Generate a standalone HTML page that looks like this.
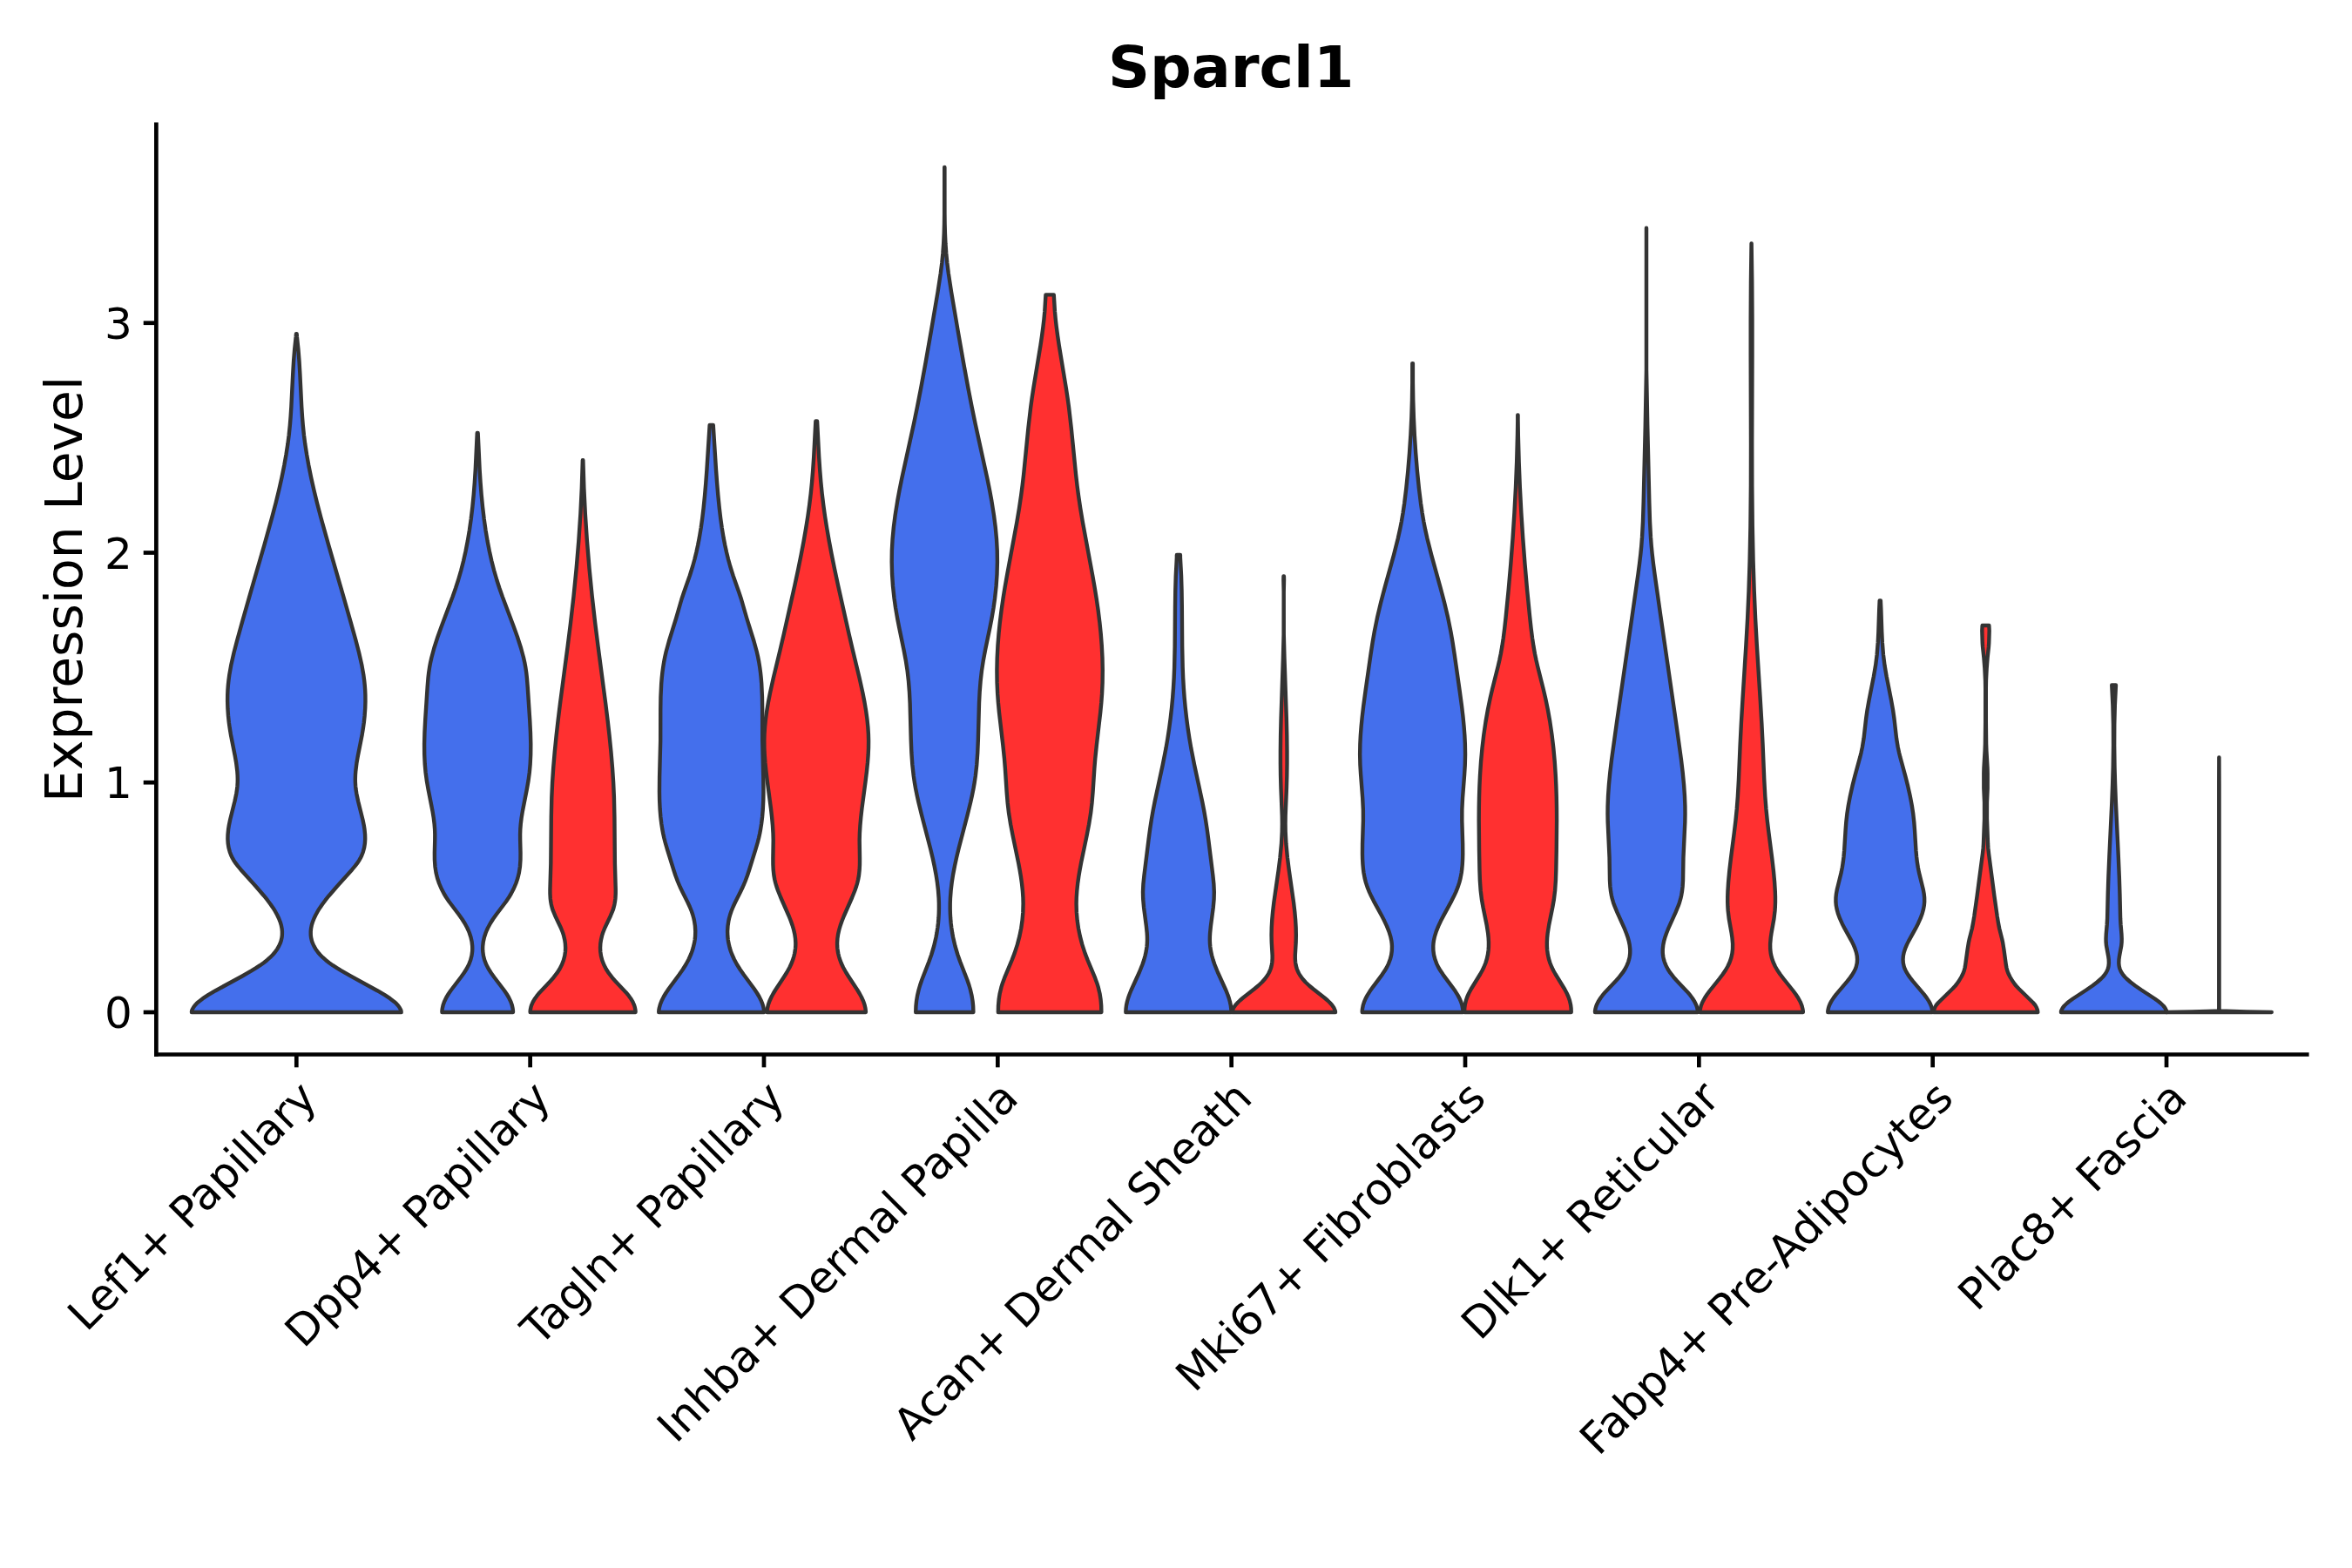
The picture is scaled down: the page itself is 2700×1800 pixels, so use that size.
<!DOCTYPE html>
<html><head><meta charset="utf-8"><title>Sparcl1</title>
<style>
html,body{margin:0;padding:0;background:#fff;overflow:hidden;width:2700px;height:1800px;}
svg{display:block;}
text{font-family:"DejaVu Sans","Liberation Sans",sans-serif;fill:#000;}
.tk{font-size:50.00px;}
.tt{font-size:66.67px;font-weight:bold;}
.yt{font-size:58.33px;}
</style></head><body>
<svg width="2700" height="1800" viewBox="0 0 2700 1800">
<rect width="2700" height="1800" fill="#fff"/>
<path d="M340.63 383.20 L340.84 386.20 L342.44 401.20 L343.48 414.20 L344.36 429.20 L346.23 467.20 L346.95 478.20 L347.76 488.20 L348.89 499.20 L350.31 510.20 L352.17 522.20 L354.32 534.20 L357.15 548.20 L360.30 562.20 L363.96 577.20 L368.40 594.20 L377.02 625.20 L393.78 683.20 L402.32 713.20 L408.45 735.20 L412.10 749.20 L415.26 763.20 L417.38 775.20 L418.18 781.20 L418.71 786.20 L419.15 792.20 L419.40 798.20 L419.45 805.20 L419.20 813.20 L418.65 821.20 L417.81 829.20 L416.84 836.20 L415.69 843.20 L410.94 867.20 L409.39 876.20 L408.28 885.20 L407.93 890.20 L407.81 894.20 L407.87 898.20 L408.11 902.20 L408.54 906.20 L409.32 911.20 L411.24 920.20 L416.48 941.20 L417.71 947.20 L418.50 952.20 L419.08 958.20 L419.19 963.20 L418.89 968.20 L418.09 973.20 L416.72 978.20 L415.16 982.20 L413.69 985.20 L412.55 987.20 L409.91 991.20 L407.62 994.20 L404.27 998.20 L386.26 1018.20 L377.67 1028.20 L373.66 1033.20 L369.93 1038.20 L367.18 1042.20 L364.68 1046.20 L362.45 1050.20 L360.54 1054.20 L358.97 1058.20 L357.78 1062.20 L357.00 1066.20 L356.71 1069.20 L356.73 1073.20 L357.08 1076.20 L358.00 1080.20 L359.07 1083.20 L360.46 1086.20 L362.19 1089.20 L365.07 1093.20 L367.67 1096.20 L370.65 1099.20 L374.05 1102.20 L377.85 1105.20 L382.07 1108.20 L386.65 1111.20 L391.54 1114.20 L402.01 1120.20 L433.15 1137.20 L441.61 1142.20 L447.70 1146.20 L452.90 1150.20 L455.08 1152.20 L456.93 1154.20 L458.43 1156.20 L459.52 1158.20 L460.42 1160.20 L460.64 1162.00 L219.96 1162.00 L220.18 1160.20 L221.08 1158.20 L222.17 1156.20 L223.67 1154.20 L225.52 1152.20 L227.70 1150.20 L232.90 1146.20 L238.99 1142.20 L247.45 1137.20 L278.59 1120.20 L289.06 1114.20 L293.95 1111.20 L298.53 1108.20 L302.75 1105.20 L306.55 1102.20 L309.95 1099.20 L312.93 1096.20 L315.53 1093.20 L318.41 1089.20 L320.14 1086.20 L321.53 1083.20 L322.60 1080.20 L323.52 1076.20 L323.87 1073.20 L323.89 1069.20 L323.60 1066.20 L322.82 1062.20 L321.63 1058.20 L320.06 1054.20 L318.15 1050.20 L315.92 1046.20 L313.42 1042.20 L310.67 1038.20 L306.94 1033.20 L302.93 1028.20 L294.34 1018.20 L276.33 998.20 L272.98 994.20 L270.69 991.20 L268.05 987.20 L266.91 985.20 L265.44 982.20 L263.88 978.20 L262.51 973.20 L261.71 968.20 L261.41 963.20 L261.52 958.20 L262.10 952.20 L262.89 947.20 L264.12 941.20 L269.36 920.20 L271.28 911.20 L272.06 906.20 L272.49 902.20 L272.73 898.20 L272.79 894.20 L272.67 890.20 L272.32 885.20 L271.21 876.20 L269.66 867.20 L264.91 843.20 L263.76 836.20 L262.79 829.20 L261.95 821.20 L261.40 813.20 L261.15 805.20 L261.20 798.20 L261.45 792.20 L261.89 786.20 L262.42 781.20 L263.22 775.20 L265.34 763.20 L268.50 749.20 L272.15 735.20 L278.28 713.20 L286.82 683.20 L303.58 625.20 L312.20 594.20 L316.64 577.20 L320.30 562.20 L323.45 548.20 L326.28 534.20 L328.43 522.20 L330.29 510.20 L331.71 499.20 L332.84 488.20 L333.65 478.20 L334.37 467.20 L336.24 429.20 L337.12 414.20 L338.16 401.20 L339.76 386.20 L339.97 383.20 Z" fill="#446FEC" stroke="#333333" stroke-width="4.40" stroke-linejoin="round"/>
<path d="M548.64 497.00 L550.60 539.00 L551.56 554.00 L552.67 568.00 L554.04 582.00 L555.70 596.00 L557.56 609.00 L559.56 621.00 L561.90 633.00 L564.36 644.00 L567.18 655.00 L570.37 666.00 L573.28 675.00 L576.79 685.00 L589.58 719.00 L593.90 731.00 L598.08 744.00 L601.04 755.00 L602.37 761.00 L603.30 766.00 L604.19 772.00 L604.87 778.00 L605.68 788.00 L608.19 826.00 L608.96 841.00 L609.30 854.00 L609.20 866.00 L608.68 877.00 L607.78 887.00 L606.57 896.00 L604.82 906.00 L599.91 931.00 L598.61 939.00 L597.76 946.00 L597.29 952.00 L597.10 958.00 L597.14 964.00 L597.52 979.00 L597.46 987.00 L596.91 995.00 L595.82 1002.00 L594.35 1008.00 L592.34 1014.00 L589.79 1020.00 L586.67 1026.00 L584.27 1030.00 L580.91 1035.00 L569.58 1050.00 L566.02 1055.00 L562.85 1060.00 L560.15 1065.00 L558.75 1068.00 L557.53 1071.00 L555.90 1076.00 L554.79 1081.00 L554.21 1086.00 L554.12 1089.00 L554.24 1092.00 L554.91 1097.00 L556.18 1102.00 L558.09 1107.00 L560.67 1112.00 L563.84 1117.00 L567.45 1122.00 L578.88 1137.00 L581.61 1141.00 L584.00 1145.00 L586.41 1150.00 L587.80 1154.00 L588.64 1158.00 L588.91 1160.00 L588.96 1162.00 L507.44 1162.00 L507.49 1160.00 L507.76 1158.00 L508.60 1154.00 L509.99 1150.00 L512.40 1145.00 L514.79 1141.00 L517.52 1137.00 L528.95 1122.00 L532.56 1117.00 L535.73 1112.00 L538.31 1107.00 L540.22 1102.00 L541.49 1097.00 L542.16 1092.00 L542.28 1089.00 L542.19 1086.00 L541.61 1081.00 L540.50 1076.00 L538.87 1071.00 L537.65 1068.00 L536.25 1065.00 L533.55 1060.00 L530.38 1055.00 L526.82 1050.00 L515.49 1035.00 L512.13 1030.00 L509.73 1026.00 L506.61 1020.00 L504.06 1014.00 L502.05 1008.00 L500.58 1002.00 L499.49 995.00 L498.94 987.00 L498.88 979.00 L499.26 964.00 L499.30 958.00 L499.11 952.00 L498.64 946.00 L497.79 939.00 L496.49 931.00 L491.58 906.00 L489.83 896.00 L488.62 887.00 L487.72 877.00 L487.20 866.00 L487.10 854.00 L487.44 841.00 L488.21 826.00 L490.72 788.00 L491.53 778.00 L492.21 772.00 L493.10 766.00 L494.03 761.00 L495.36 755.00 L498.32 744.00 L502.50 731.00 L506.82 719.00 L519.61 685.00 L523.12 675.00 L526.03 666.00 L529.22 655.00 L532.04 644.00 L534.50 633.00 L536.84 621.00 L538.84 609.00 L540.70 596.00 L542.36 582.00 L543.73 568.00 L544.84 554.00 L545.80 539.00 L547.76 497.00 Z" fill="#446FEC" stroke="#333333" stroke-width="4.40" stroke-linejoin="round"/>
<path d="M669.35 528.20 L670.36 560.20 L671.83 590.20 L673.91 621.20 L676.59 653.20 L679.67 684.20 L683.19 715.20 L686.58 742.20 L695.28 808.20 L697.62 827.20 L699.54 844.20 L701.45 863.20 L702.98 881.20 L704.11 898.20 L704.89 915.20 L705.41 938.20 L705.87 991.20 L706.75 1021.20 L706.72 1026.20 L706.44 1031.20 L705.95 1035.20 L705.41 1038.20 L704.42 1042.20 L703.44 1045.20 L700.95 1051.20 L694.28 1065.20 L692.31 1070.20 L691.05 1074.20 L689.89 1079.20 L689.31 1083.20 L689.05 1088.20 L689.22 1092.20 L689.94 1097.20 L691.24 1102.20 L693.15 1107.20 L695.69 1112.20 L698.89 1117.20 L702.76 1122.20 L706.30 1126.20 L718.55 1139.20 L721.87 1143.20 L724.03 1146.20 L726.40 1150.20 L728.13 1154.20 L728.74 1156.20 L729.16 1158.20 L729.49 1160.20 L729.54 1162.00 L608.66 1162.00 L608.71 1160.20 L609.04 1158.20 L609.46 1156.20 L610.07 1154.20 L611.80 1150.20 L614.17 1146.20 L616.33 1143.20 L619.65 1139.20 L631.90 1126.20 L635.44 1122.20 L639.31 1117.20 L642.51 1112.20 L645.05 1107.20 L646.96 1102.20 L648.26 1097.20 L648.98 1092.20 L649.15 1088.20 L648.89 1083.20 L648.31 1079.20 L647.15 1074.20 L645.89 1070.20 L643.92 1065.20 L637.25 1051.20 L634.76 1045.20 L633.78 1042.20 L632.79 1038.20 L632.25 1035.20 L631.76 1031.20 L631.48 1026.20 L631.45 1021.20 L632.33 991.20 L632.79 938.20 L633.31 915.20 L634.09 898.20 L635.22 881.20 L636.75 863.20 L638.66 844.20 L640.58 827.20 L642.92 808.20 L651.62 742.20 L655.01 715.20 L658.53 684.20 L661.61 653.20 L664.29 621.20 L666.37 590.20 L667.84 560.20 L668.85 528.20 Z" fill="#FF3030" stroke="#333333" stroke-width="4.40" stroke-linejoin="round"/>
<path d="M818.73 488.00 L821.97 539.00 L823.16 555.00 L824.36 569.00 L825.76 583.00 L827.18 595.00 L828.72 606.00 L830.54 617.00 L832.28 626.00 L834.03 634.00 L835.99 642.00 L838.20 650.00 L841.64 661.00 L848.33 680.00 L850.99 688.00 L857.33 710.00 L865.44 736.00 L868.72 748.00 L870.08 754.00 L871.24 760.00 L872.21 766.00 L873.01 772.00 L873.65 778.00 L874.23 785.00 L874.94 800.00 L875.16 814.00 L875.21 850.00 L876.28 892.00 L876.43 909.00 L876.25 919.00 L875.77 929.00 L875.03 938.00 L874.05 946.00 L873.10 952.00 L872.15 957.00 L871.05 962.00 L869.78 967.00 L867.44 975.00 L859.96 999.00 L857.98 1005.00 L855.37 1012.00 L852.79 1018.00 L849.92 1024.00 L843.88 1036.00 L841.56 1041.00 L839.53 1046.00 L838.18 1050.00 L837.08 1054.00 L836.41 1057.00 L835.49 1063.00 L835.12 1069.00 L835.32 1075.00 L835.76 1079.00 L836.26 1082.00 L837.67 1088.00 L838.93 1092.00 L840.03 1095.00 L842.67 1101.00 L845.88 1107.00 L849.65 1113.00 L853.87 1119.00 L865.68 1135.00 L869.02 1140.00 L871.41 1144.00 L873.93 1149.00 L875.48 1153.00 L876.56 1157.00 L877.08 1160.00 L877.19 1162.00 L756.21 1162.00 L756.32 1160.00 L756.84 1157.00 L757.92 1153.00 L759.47 1149.00 L761.99 1144.00 L764.38 1140.00 L767.72 1135.00 L779.53 1119.00 L783.75 1113.00 L787.52 1107.00 L790.73 1101.00 L793.37 1095.00 L794.47 1092.00 L795.73 1088.00 L797.14 1082.00 L797.64 1079.00 L798.08 1075.00 L798.28 1069.00 L797.91 1063.00 L796.99 1057.00 L796.32 1054.00 L795.22 1050.00 L793.87 1046.00 L791.84 1041.00 L789.52 1036.00 L783.48 1024.00 L780.61 1018.00 L778.03 1012.00 L775.42 1005.00 L773.44 999.00 L765.96 975.00 L763.62 967.00 L762.35 962.00 L761.25 957.00 L760.30 952.00 L759.35 946.00 L758.37 938.00 L757.63 929.00 L757.15 919.00 L756.97 909.00 L757.12 892.00 L758.19 850.00 L758.24 814.00 L758.46 800.00 L759.17 785.00 L759.75 778.00 L760.39 772.00 L761.19 766.00 L762.16 760.00 L763.32 754.00 L764.68 748.00 L767.96 736.00 L776.07 710.00 L782.41 688.00 L785.07 680.00 L791.76 661.00 L795.20 650.00 L797.41 642.00 L799.37 634.00 L801.12 626.00 L802.86 617.00 L804.68 606.00 L806.22 595.00 L807.64 583.00 L809.04 569.00 L810.24 555.00 L811.43 539.00 L814.67 488.00 Z" fill="#446FEC" stroke="#333333" stroke-width="4.40" stroke-linejoin="round"/>
<path d="M938.05 483.50 L940.18 524.50 L941.18 539.50 L942.33 553.50 L943.64 566.50 L945.21 579.50 L947.02 592.50 L949.23 606.50 L951.84 621.50 L954.68 636.50 L958.12 653.50 L961.96 671.50 L974.49 727.50 L978.69 745.50 L986.63 778.50 L990.39 795.50 L992.54 806.50 L994.21 816.50 L995.43 825.50 L996.35 834.50 L996.88 842.50 L997.10 850.50 L997.02 858.50 L996.66 866.50 L995.99 875.50 L994.97 885.50 L993.63 896.50 L989.38 928.50 L988.25 938.50 L987.45 947.50 L986.90 956.50 L986.68 964.50 L987.01 985.50 L986.97 992.50 L986.67 998.50 L986.03 1004.50 L985.16 1009.50 L984.20 1013.50 L983.03 1017.50 L981.29 1022.50 L978.06 1030.50 L968.80 1051.50 L966.43 1057.50 L964.69 1062.50 L963.23 1067.50 L962.10 1072.50 L961.37 1077.50 L961.07 1082.50 L961.11 1085.50 L961.32 1088.50 L961.69 1091.50 L962.22 1094.50 L962.93 1097.50 L963.80 1100.50 L965.63 1105.50 L967.94 1110.50 L971.28 1116.50 L974.42 1121.50 L984.29 1136.50 L986.69 1140.50 L988.86 1144.50 L991.14 1149.50 L992.52 1153.50 L993.43 1157.50 L993.83 1160.50 L993.88 1162.00 L880.52 1162.00 L880.57 1160.50 L880.97 1157.50 L881.88 1153.50 L883.26 1149.50 L885.54 1144.50 L887.71 1140.50 L890.11 1136.50 L899.98 1121.50 L903.12 1116.50 L906.46 1110.50 L908.77 1105.50 L910.60 1100.50 L911.47 1097.50 L912.18 1094.50 L912.71 1091.50 L913.08 1088.50 L913.29 1085.50 L913.33 1082.50 L913.03 1077.50 L912.30 1072.50 L911.17 1067.50 L909.71 1062.50 L907.97 1057.50 L905.60 1051.50 L896.34 1030.50 L893.11 1022.50 L891.37 1017.50 L890.20 1013.50 L889.24 1009.50 L888.37 1004.50 L887.73 998.50 L887.43 992.50 L887.39 985.50 L887.72 964.50 L887.50 956.50 L886.95 947.50 L886.15 938.50 L885.02 928.50 L880.77 896.50 L879.43 885.50 L878.41 875.50 L877.74 866.50 L877.38 858.50 L877.30 850.50 L877.52 842.50 L878.05 834.50 L878.97 825.50 L880.19 816.50 L881.86 806.50 L884.01 795.50 L887.77 778.50 L895.71 745.50 L899.91 727.50 L912.44 671.50 L916.28 653.50 L919.72 636.50 L922.56 621.50 L925.17 606.50 L927.38 592.50 L929.19 579.50 L930.76 566.50 L932.07 553.50 L933.22 539.50 L934.22 524.50 L936.35 483.50 Z" fill="#FF3030" stroke="#333333" stroke-width="4.40" stroke-linejoin="round"/>
<path d="M1084.40 192.00 L1084.45 245.00 L1084.59 257.00 L1084.89 268.00 L1085.45 280.00 L1086.24 291.00 L1087.33 302.00 L1088.84 314.00 L1092.04 335.00 L1099.52 379.00 L1105.98 416.00 L1111.50 446.00 L1115.59 467.00 L1119.50 486.00 L1133.51 550.00 L1136.12 563.00 L1138.34 575.00 L1140.90 591.00 L1142.71 605.00 L1144.02 619.00 L1144.73 632.00 L1144.90 645.00 L1144.52 659.00 L1143.57 673.00 L1142.06 687.00 L1140.50 698.00 L1138.44 710.00 L1136.27 721.00 L1131.08 746.00 L1128.83 758.00 L1126.97 770.00 L1125.61 782.00 L1124.66 794.00 L1123.99 807.00 L1122.85 849.00 L1122.23 864.00 L1121.24 878.00 L1119.79 891.00 L1118.75 898.00 L1117.53 905.00 L1115.93 913.00 L1114.16 921.00 L1110.49 936.00 L1100.57 974.00 L1097.93 985.00 L1095.98 994.00 L1094.08 1004.00 L1092.68 1013.00 L1091.62 1022.00 L1090.94 1031.00 L1090.72 1037.00 L1090.69 1043.00 L1090.85 1049.00 L1091.13 1054.00 L1091.66 1060.00 L1092.26 1065.00 L1093.17 1071.00 L1094.10 1076.00 L1096.42 1086.00 L1099.39 1096.00 L1102.23 1104.00 L1110.39 1125.00 L1112.43 1131.00 L1113.90 1136.00 L1115.54 1143.00 L1116.53 1149.00 L1117.14 1155.00 L1117.38 1162.00 L1051.22 1162.00 L1051.46 1155.00 L1052.07 1149.00 L1053.06 1143.00 L1054.70 1136.00 L1056.17 1131.00 L1058.21 1125.00 L1066.37 1104.00 L1069.21 1096.00 L1072.18 1086.00 L1074.50 1076.00 L1075.43 1071.00 L1076.34 1065.00 L1076.94 1060.00 L1077.47 1054.00 L1077.75 1049.00 L1077.91 1043.00 L1077.88 1037.00 L1077.66 1031.00 L1076.98 1022.00 L1075.92 1013.00 L1074.52 1004.00 L1072.62 994.00 L1070.67 985.00 L1068.03 974.00 L1058.11 936.00 L1054.44 921.00 L1052.67 913.00 L1051.07 905.00 L1049.85 898.00 L1048.81 891.00 L1047.36 878.00 L1046.37 864.00 L1045.75 849.00 L1044.61 807.00 L1043.94 794.00 L1042.99 782.00 L1041.63 770.00 L1039.77 758.00 L1037.52 746.00 L1032.33 721.00 L1030.16 710.00 L1028.10 698.00 L1026.54 687.00 L1025.03 673.00 L1024.08 659.00 L1023.70 645.00 L1023.87 632.00 L1024.58 619.00 L1025.89 605.00 L1027.70 591.00 L1030.26 575.00 L1032.48 563.00 L1035.09 550.00 L1049.10 486.00 L1053.01 467.00 L1057.10 446.00 L1062.62 416.00 L1069.08 379.00 L1076.56 335.00 L1079.76 314.00 L1081.27 302.00 L1082.36 291.00 L1083.15 280.00 L1083.71 268.00 L1084.01 257.00 L1084.15 245.00 L1084.20 192.00 Z" fill="#446FEC" stroke="#333333" stroke-width="4.40" stroke-linejoin="round"/>
<path d="M1209.74 338.40 L1210.91 357.40 L1211.75 366.40 L1212.78 375.40 L1214.10 385.40 L1215.72 396.40 L1223.80 445.40 L1225.62 457.40 L1227.00 467.40 L1229.78 491.40 L1235.05 544.40 L1236.54 557.40 L1237.97 568.40 L1240.19 583.40 L1242.87 599.40 L1254.17 660.40 L1256.63 674.40 L1258.57 686.40 L1260.61 700.40 L1262.36 714.40 L1263.69 727.40 L1264.72 740.40 L1265.50 755.40 L1265.79 769.40 L1265.63 783.40 L1265.04 796.40 L1264.31 806.40 L1263.26 817.40 L1258.84 855.40 L1257.29 870.40 L1256.32 882.40 L1254.54 909.40 L1253.53 921.40 L1252.13 933.40 L1250.06 946.40 L1247.56 959.40 L1241.11 990.40 L1239.61 998.40 L1238.27 1006.40 L1237.15 1014.40 L1236.30 1022.40 L1235.76 1030.40 L1235.59 1037.40 L1235.87 1047.40 L1236.64 1056.40 L1237.92 1065.40 L1239.72 1074.40 L1242.32 1084.40 L1245.58 1094.40 L1248.66 1102.40 L1257.03 1122.40 L1259.23 1128.40 L1260.79 1133.40 L1262.46 1140.40 L1263.56 1147.40 L1264.17 1154.40 L1264.34 1162.00 L1145.86 1162.00 L1146.03 1154.40 L1146.64 1147.40 L1147.74 1140.40 L1149.41 1133.40 L1150.97 1128.40 L1153.17 1122.40 L1161.54 1102.40 L1164.62 1094.40 L1167.88 1084.40 L1170.48 1074.40 L1172.28 1065.40 L1173.56 1056.40 L1174.33 1047.40 L1174.61 1037.40 L1174.44 1030.40 L1173.90 1022.40 L1173.05 1014.40 L1171.93 1006.40 L1170.59 998.40 L1169.09 990.40 L1162.64 959.40 L1160.14 946.40 L1158.07 933.40 L1156.67 921.40 L1155.66 909.40 L1153.88 882.40 L1152.91 870.40 L1151.36 855.40 L1146.94 817.40 L1145.89 806.40 L1145.16 796.40 L1144.57 783.40 L1144.41 769.40 L1144.70 755.40 L1145.48 740.40 L1146.51 727.40 L1147.84 714.40 L1149.59 700.40 L1151.63 686.40 L1153.57 674.40 L1156.03 660.40 L1167.33 599.40 L1170.01 583.40 L1172.23 568.40 L1173.66 557.40 L1175.15 544.40 L1180.42 491.40 L1183.20 467.40 L1184.58 457.40 L1186.40 445.40 L1194.48 396.40 L1196.10 385.40 L1197.42 375.40 L1198.45 366.40 L1199.29 357.40 L1200.46 338.40 Z" fill="#FF3030" stroke="#333333" stroke-width="4.40" stroke-linejoin="round"/>
<path d="M1354.90 637.00 L1354.92 640.00 L1356.03 661.00 L1356.53 678.00 L1356.81 697.00 L1357.14 742.00 L1357.66 766.00 L1358.14 778.00 L1358.83 790.00 L1359.65 801.00 L1360.68 812.00 L1362.03 824.00 L1363.61 836.00 L1365.44 848.00 L1367.33 859.00 L1371.07 878.00 L1380.12 920.00 L1382.26 931.00 L1383.99 941.00 L1385.66 952.00 L1387.26 964.00 L1392.36 1005.00 L1393.38 1015.00 L1393.79 1024.00 L1393.59 1032.00 L1392.70 1042.00 L1389.92 1063.00 L1389.11 1071.00 L1388.88 1075.00 L1388.82 1079.00 L1388.95 1083.00 L1389.31 1087.00 L1390.07 1092.00 L1391.17 1097.00 L1392.58 1102.00 L1394.26 1107.00 L1397.86 1116.00 L1407.43 1137.00 L1409.41 1142.00 L1410.79 1146.00 L1411.92 1150.00 L1412.77 1154.00 L1413.28 1158.00 L1413.47 1162.00 L1292.33 1162.00 L1292.52 1158.00 L1293.03 1154.00 L1293.88 1150.00 L1295.01 1146.00 L1296.39 1142.00 L1298.37 1137.00 L1307.94 1116.00 L1311.54 1107.00 L1313.22 1102.00 L1314.63 1097.00 L1315.73 1092.00 L1316.49 1087.00 L1316.85 1083.00 L1316.98 1079.00 L1316.92 1075.00 L1316.69 1071.00 L1315.88 1063.00 L1313.10 1042.00 L1312.21 1032.00 L1312.01 1024.00 L1312.42 1015.00 L1313.44 1005.00 L1318.54 964.00 L1320.14 952.00 L1321.81 941.00 L1323.54 931.00 L1325.68 920.00 L1334.73 878.00 L1338.47 859.00 L1340.36 848.00 L1342.19 836.00 L1343.77 824.00 L1345.12 812.00 L1346.15 801.00 L1346.97 790.00 L1347.66 778.00 L1348.14 766.00 L1348.66 742.00 L1348.99 697.00 L1349.27 678.00 L1349.77 661.00 L1350.88 640.00 L1350.90 637.00 Z" fill="#446FEC" stroke="#333333" stroke-width="4.40" stroke-linejoin="round"/>
<path d="M1473.92 661.50 L1474.01 665.50 L1473.70 679.50 L1473.76 728.50 L1474.47 755.50 L1476.81 824.50 L1477.28 844.50 L1477.49 862.50 L1477.49 876.50 L1477.31 890.50 L1476.93 904.50 L1475.66 936.50 L1475.54 945.50 L1475.67 954.50 L1476.41 968.50 L1477.92 984.50 L1479.69 998.50 L1484.99 1035.50 L1486.28 1046.50 L1487.09 1055.50 L1487.62 1064.50 L1487.81 1073.50 L1487.64 1081.50 L1486.77 1096.50 L1486.77 1100.50 L1487.05 1104.50 L1487.51 1107.50 L1487.96 1109.50 L1488.86 1112.50 L1489.64 1114.50 L1491.10 1117.50 L1492.28 1119.50 L1495.13 1123.50 L1498.69 1127.50 L1502.94 1131.50 L1507.79 1135.50 L1520.55 1145.50 L1524.03 1148.50 L1526.14 1150.50 L1528.90 1153.50 L1531.03 1156.50 L1531.57 1157.50 L1532.82 1160.50 L1532.96 1162.00 L1414.44 1162.00 L1414.58 1160.50 L1415.83 1157.50 L1416.37 1156.50 L1418.50 1153.50 L1421.26 1150.50 L1423.37 1148.50 L1426.85 1145.50 L1439.61 1135.50 L1444.46 1131.50 L1448.71 1127.50 L1452.27 1123.50 L1455.12 1119.50 L1456.30 1117.50 L1457.76 1114.50 L1458.54 1112.50 L1459.44 1109.50 L1459.89 1107.50 L1460.35 1104.50 L1460.63 1100.50 L1460.63 1096.50 L1459.76 1081.50 L1459.59 1073.50 L1459.78 1064.50 L1460.31 1055.50 L1461.12 1046.50 L1462.41 1035.50 L1467.71 998.50 L1469.48 984.50 L1470.99 968.50 L1471.73 954.50 L1471.86 945.50 L1471.74 936.50 L1470.47 904.50 L1470.09 890.50 L1469.91 876.50 L1469.91 862.50 L1470.12 844.50 L1470.59 824.50 L1472.93 755.50 L1473.64 728.50 L1473.70 679.50 L1473.39 665.50 L1473.48 661.50 Z" fill="#FF3030" stroke="#333333" stroke-width="4.40" stroke-linejoin="round"/>
<path d="M1621.90 417.10 L1621.92 439.10 L1622.22 459.10 L1622.85 479.10 L1623.81 499.10 L1625.20 520.10 L1626.95 541.10 L1628.97 561.10 L1631.06 578.10 L1632.69 589.10 L1634.40 599.10 L1636.17 608.10 L1638.39 618.10 L1643.20 637.10 L1653.43 674.10 L1657.91 691.10 L1662.19 709.10 L1665.43 725.10 L1667.51 737.10 L1669.67 751.10 L1675.80 794.10 L1677.96 810.10 L1679.50 823.10 L1680.58 834.10 L1681.34 844.10 L1681.84 854.10 L1682.05 866.10 L1681.76 878.10 L1681.10 889.10 L1679.02 916.10 L1678.37 929.10 L1678.32 942.10 L1679.15 969.10 L1679.24 980.10 L1679.09 986.10 L1678.77 992.10 L1678.33 997.10 L1677.68 1002.10 L1676.55 1008.10 L1675.26 1013.10 L1673.62 1018.10 L1671.23 1024.10 L1668.91 1029.10 L1666.38 1034.10 L1657.15 1051.10 L1654.04 1057.10 L1651.21 1063.10 L1648.79 1069.10 L1646.92 1075.10 L1645.86 1080.10 L1645.47 1083.10 L1645.27 1086.10 L1645.37 1091.10 L1646.03 1096.10 L1647.28 1101.10 L1649.13 1106.10 L1651.07 1110.10 L1653.39 1114.10 L1656.75 1119.10 L1667.21 1133.10 L1670.74 1138.10 L1673.27 1142.10 L1675.44 1146.10 L1677.18 1150.10 L1678.45 1154.10 L1679.19 1158.10 L1679.43 1160.10 L1679.45 1162.00 L1563.75 1162.00 L1563.77 1160.10 L1564.01 1158.10 L1564.75 1154.10 L1566.02 1150.10 L1567.76 1146.10 L1569.93 1142.10 L1572.46 1138.10 L1575.99 1133.10 L1586.45 1119.10 L1589.81 1114.10 L1592.13 1110.10 L1594.07 1106.10 L1595.92 1101.10 L1597.17 1096.10 L1597.83 1091.10 L1597.93 1086.10 L1597.73 1083.10 L1597.34 1080.10 L1596.28 1075.10 L1594.41 1069.10 L1591.99 1063.10 L1589.16 1057.10 L1586.05 1051.10 L1576.82 1034.10 L1574.29 1029.10 L1571.97 1024.10 L1569.58 1018.10 L1567.94 1013.10 L1566.65 1008.10 L1565.52 1002.10 L1564.87 997.10 L1564.43 992.10 L1564.11 986.10 L1563.96 980.10 L1564.05 969.10 L1564.88 942.10 L1564.83 929.10 L1564.18 916.10 L1562.10 889.10 L1561.44 878.10 L1561.15 866.10 L1561.36 854.10 L1561.86 844.10 L1562.62 834.10 L1563.70 823.10 L1565.24 810.10 L1567.40 794.10 L1573.53 751.10 L1575.69 737.10 L1577.77 725.10 L1581.01 709.10 L1585.29 691.10 L1589.77 674.10 L1600.00 637.10 L1604.81 618.10 L1607.03 608.10 L1608.80 599.10 L1610.51 589.10 L1612.14 578.10 L1614.23 561.10 L1616.25 541.10 L1618.00 520.10 L1619.39 499.10 L1620.35 479.10 L1620.98 459.10 L1621.28 439.10 L1621.30 417.10 Z" fill="#446FEC" stroke="#333333" stroke-width="4.40" stroke-linejoin="round"/>
<path d="M1742.55 476.50 L1742.53 482.50 L1742.81 499.50 L1743.65 530.50 L1744.82 559.50 L1746.34 588.50 L1748.21 617.50 L1750.50 647.50 L1753.13 677.50 L1756.19 708.50 L1757.62 721.50 L1759.02 732.50 L1760.37 741.50 L1761.96 750.50 L1763.40 757.50 L1765.01 764.50 L1771.56 790.50 L1774.13 801.50 L1776.82 814.50 L1779.29 828.50 L1781.50 843.50 L1783.28 858.50 L1784.75 874.50 L1785.82 890.50 L1786.38 902.50 L1786.77 914.50 L1787.01 927.50 L1787.10 941.50 L1786.76 976.50 L1786.31 999.50 L1785.93 1010.50 L1785.08 1022.50 L1783.86 1032.50 L1782.27 1041.50 L1778.21 1061.50 L1776.63 1071.50 L1776.12 1076.50 L1775.86 1081.50 L1775.88 1086.50 L1776.14 1090.50 L1776.79 1095.50 L1777.87 1100.50 L1779.40 1105.50 L1781.45 1110.50 L1783.44 1114.50 L1785.70 1118.50 L1796.13 1135.50 L1798.77 1140.50 L1800.53 1144.50 L1801.91 1148.50 L1803.07 1153.50 L1803.57 1157.50 L1803.72 1162.00 L1681.08 1162.00 L1681.23 1157.50 L1681.73 1153.50 L1682.89 1148.50 L1684.27 1144.50 L1686.03 1140.50 L1688.67 1135.50 L1699.10 1118.50 L1701.36 1114.50 L1703.35 1110.50 L1705.40 1105.50 L1706.93 1100.50 L1708.01 1095.50 L1708.66 1090.50 L1708.92 1086.50 L1708.94 1081.50 L1708.68 1076.50 L1708.17 1071.50 L1706.59 1061.50 L1702.53 1041.50 L1700.94 1032.50 L1699.72 1022.50 L1698.87 1010.50 L1698.49 999.50 L1698.04 976.50 L1697.70 941.50 L1697.79 927.50 L1698.03 914.50 L1698.42 902.50 L1698.98 890.50 L1700.05 874.50 L1701.52 858.50 L1703.30 843.50 L1705.51 828.50 L1707.98 814.50 L1710.67 801.50 L1713.24 790.50 L1719.79 764.50 L1721.40 757.50 L1722.84 750.50 L1724.43 741.50 L1725.78 732.50 L1727.18 721.50 L1728.61 708.50 L1731.67 677.50 L1734.30 647.50 L1736.59 617.50 L1738.46 588.50 L1739.98 559.50 L1741.15 530.50 L1741.99 499.50 L1742.27 482.50 L1742.25 476.50 Z" fill="#FF3030" stroke="#333333" stroke-width="4.40" stroke-linejoin="round"/>
<path d="M1890.04 261.70 L1890.05 424.70 L1891.21 487.70 L1893.32 576.70 L1894.01 598.70 L1894.97 616.70 L1895.74 626.70 L1896.62 635.70 L1897.90 646.70 L1899.48 658.70 L1906.29 706.70 L1923.81 827.70 L1929.91 871.70 L1931.69 886.70 L1933.04 900.70 L1933.94 913.70 L1934.41 925.70 L1934.48 934.70 L1934.32 943.70 L1932.43 984.70 L1932.00 1010.70 L1931.58 1017.70 L1930.88 1023.70 L1930.18 1027.70 L1929.26 1031.70 L1928.10 1035.70 L1926.71 1039.70 L1923.43 1047.70 L1914.85 1066.70 L1912.87 1071.70 L1911.48 1075.70 L1910.08 1080.70 L1909.27 1084.70 L1908.73 1089.70 L1908.74 1093.70 L1909.01 1096.70 L1909.33 1098.70 L1910.02 1101.70 L1910.61 1103.70 L1911.72 1106.70 L1912.60 1108.70 L1914.71 1112.70 L1917.31 1116.70 L1921.22 1121.70 L1924.80 1125.70 L1937.09 1138.70 L1940.46 1142.70 L1942.70 1145.70 L1945.25 1149.70 L1947.19 1153.70 L1947.90 1155.70 L1948.43 1157.70 L1948.95 1160.70 L1948.98 1162.00 L1831.02 1162.00 L1831.05 1160.70 L1831.57 1157.70 L1832.10 1155.70 L1832.81 1153.70 L1834.75 1149.70 L1837.30 1145.70 L1839.54 1142.70 L1842.91 1138.70 L1855.20 1125.70 L1858.78 1121.70 L1862.69 1116.70 L1865.29 1112.70 L1867.40 1108.70 L1868.28 1106.70 L1869.39 1103.70 L1869.98 1101.70 L1870.67 1098.70 L1870.99 1096.70 L1871.26 1093.70 L1871.27 1089.70 L1870.73 1084.70 L1869.92 1080.70 L1868.52 1075.70 L1867.13 1071.70 L1865.15 1066.70 L1856.57 1047.70 L1853.29 1039.70 L1851.90 1035.70 L1850.74 1031.70 L1849.82 1027.70 L1849.12 1023.70 L1848.42 1017.70 L1848.00 1010.70 L1847.57 984.70 L1845.68 943.70 L1845.52 934.70 L1845.59 925.70 L1846.06 913.70 L1846.96 900.70 L1848.31 886.70 L1850.09 871.70 L1856.19 827.70 L1873.71 706.70 L1880.52 658.70 L1882.10 646.70 L1883.38 635.70 L1884.26 626.70 L1885.03 616.70 L1885.99 598.70 L1886.68 576.70 L1888.79 487.70 L1889.95 424.70 L1889.96 261.70 Z" fill="#446FEC" stroke="#333333" stroke-width="4.40" stroke-linejoin="round"/>
<path d="M2010.64 279.50 L2011.25 323.50 L2011.50 366.50 L2011.50 408.50 L2011.21 508.50 L2011.30 557.50 L2011.76 603.50 L2012.60 644.50 L2013.70 678.50 L2015.12 710.50 L2016.80 740.50 L2020.76 803.50 L2022.35 830.50 L2023.55 854.50 L2025.27 895.50 L2026.33 914.50 L2027.41 928.50 L2028.81 942.50 L2030.38 955.50 L2034.26 985.50 L2035.89 999.50 L2037.10 1012.50 L2037.79 1023.50 L2037.98 1029.50 L2037.99 1035.50 L2037.83 1040.50 L2037.51 1045.50 L2036.46 1054.50 L2033.63 1070.50 L2032.73 1076.50 L2032.13 1083.50 L2032.19 1089.50 L2032.76 1094.50 L2033.88 1099.50 L2035.58 1104.50 L2037.89 1109.50 L2040.19 1113.50 L2043.59 1118.50 L2047.39 1123.50 L2058.59 1137.50 L2061.52 1141.50 L2064.15 1145.50 L2066.87 1150.50 L2068.47 1154.50 L2069.45 1158.50 L2069.78 1160.50 L2069.83 1162.00 L1951.37 1162.00 L1951.42 1160.50 L1951.75 1158.50 L1952.73 1154.50 L1954.33 1150.50 L1957.05 1145.50 L1959.68 1141.50 L1962.61 1137.50 L1973.81 1123.50 L1977.61 1118.50 L1981.01 1113.50 L1983.31 1109.50 L1985.62 1104.50 L1987.32 1099.50 L1988.44 1094.50 L1989.01 1089.50 L1989.07 1083.50 L1988.47 1076.50 L1987.57 1070.50 L1984.74 1054.50 L1983.69 1045.50 L1983.37 1040.50 L1983.21 1035.50 L1983.22 1029.50 L1983.41 1023.50 L1984.10 1012.50 L1985.31 999.50 L1986.94 985.50 L1990.82 955.50 L1992.39 942.50 L1993.79 928.50 L1994.87 914.50 L1995.93 895.50 L1997.65 854.50 L1998.85 830.50 L2000.44 803.50 L2004.40 740.50 L2006.08 710.50 L2007.50 678.50 L2008.60 644.50 L2009.44 603.50 L2009.90 557.50 L2009.99 508.50 L2009.70 408.50 L2009.70 366.50 L2009.95 323.50 L2010.56 279.50 Z" fill="#FF3030" stroke="#333333" stroke-width="4.40" stroke-linejoin="round"/>
<path d="M2158.88 689.40 L2159.35 699.40 L2160.23 725.40 L2160.82 737.40 L2161.94 751.40 L2163.44 763.40 L2165.65 776.40 L2170.97 803.40 L2173.10 815.40 L2174.53 825.40 L2177.03 847.40 L2178.66 857.40 L2179.94 863.40 L2181.41 869.40 L2187.40 891.40 L2190.17 902.40 L2192.64 913.40 L2194.73 924.40 L2196.25 934.40 L2197.26 943.40 L2197.96 952.40 L2199.45 976.40 L2200.09 983.40 L2200.80 989.40 L2201.72 995.40 L2202.89 1001.40 L2207.82 1021.40 L2208.71 1026.40 L2209.13 1030.40 L2209.18 1035.40 L2208.81 1039.40 L2208.08 1043.40 L2206.73 1048.40 L2204.53 1054.40 L2201.82 1060.40 L2198.71 1066.40 L2190.98 1080.40 L2189.01 1084.40 L2187.31 1088.40 L2185.66 1093.40 L2184.84 1097.40 L2184.54 1101.40 L2184.80 1105.40 L2185.68 1109.40 L2186.76 1112.40 L2188.21 1115.40 L2190.64 1119.40 L2192.78 1122.40 L2195.93 1126.40 L2208.64 1141.40 L2211.66 1145.40 L2214.26 1149.40 L2215.86 1152.40 L2217.09 1155.40 L2217.68 1157.40 L2218.28 1160.40 L2218.34 1162.00 L2098.26 1162.00 L2098.32 1160.40 L2098.92 1157.40 L2099.51 1155.40 L2100.74 1152.40 L2102.34 1149.40 L2104.94 1145.40 L2107.96 1141.40 L2120.67 1126.40 L2123.82 1122.40 L2125.96 1119.40 L2128.39 1115.40 L2129.84 1112.40 L2130.92 1109.40 L2131.80 1105.40 L2132.06 1101.40 L2131.76 1097.40 L2130.94 1093.40 L2129.29 1088.40 L2127.59 1084.40 L2125.62 1080.40 L2117.89 1066.40 L2114.78 1060.40 L2112.07 1054.40 L2109.87 1048.40 L2108.52 1043.40 L2107.79 1039.40 L2107.42 1035.40 L2107.47 1030.40 L2107.89 1026.40 L2108.78 1021.40 L2113.71 1001.40 L2114.88 995.40 L2115.80 989.40 L2116.51 983.40 L2117.15 976.40 L2118.64 952.40 L2119.34 943.40 L2120.35 934.40 L2121.87 924.40 L2123.96 913.40 L2126.43 902.40 L2129.20 891.40 L2135.19 869.40 L2136.66 863.40 L2137.94 857.40 L2139.57 847.40 L2142.07 825.40 L2143.50 815.40 L2145.63 803.40 L2150.95 776.40 L2153.16 763.40 L2154.66 751.40 L2155.78 737.40 L2156.37 725.40 L2157.25 699.40 L2157.72 689.40 Z" fill="#446FEC" stroke="#333333" stroke-width="4.40" stroke-linejoin="round"/>
<path d="M2283.36 718.00 L2283.67 724.00 L2283.25 738.00 L2282.88 743.00 L2281.59 755.00 L2280.65 767.00 L2279.95 781.00 L2279.80 790.00 L2279.82 829.00 L2280.10 854.00 L2280.39 862.00 L2281.54 882.00 L2281.69 888.00 L2281.67 905.00 L2280.96 921.00 L2280.94 940.00 L2282.04 969.00 L2282.38 974.00 L2283.04 980.00 L2289.33 1028.00 L2292.72 1052.00 L2294.04 1060.00 L2295.21 1066.00 L2298.25 1078.00 L2299.11 1082.00 L2300.40 1090.00 L2302.88 1108.00 L2303.42 1111.00 L2304.18 1114.00 L2305.26 1117.00 L2307.20 1121.00 L2310.17 1126.00 L2312.99 1130.00 L2314.66 1132.00 L2317.49 1135.00 L2333.89 1151.00 L2336.41 1154.00 L2337.58 1156.00 L2338.38 1158.00 L2339.04 1160.00 L2339.30 1162.00 L2219.70 1162.00 L2219.96 1160.00 L2220.62 1158.00 L2221.42 1156.00 L2222.59 1154.00 L2225.11 1151.00 L2241.51 1135.00 L2244.34 1132.00 L2246.01 1130.00 L2248.83 1126.00 L2251.80 1121.00 L2253.74 1117.00 L2254.82 1114.00 L2255.58 1111.00 L2256.12 1108.00 L2258.60 1090.00 L2259.89 1082.00 L2260.75 1078.00 L2263.79 1066.00 L2264.96 1060.00 L2266.28 1052.00 L2269.67 1028.00 L2275.96 980.00 L2276.62 974.00 L2276.96 969.00 L2278.06 940.00 L2278.04 921.00 L2277.33 905.00 L2277.31 888.00 L2277.46 882.00 L2278.61 862.00 L2278.90 854.00 L2279.18 829.00 L2279.20 790.00 L2279.05 781.00 L2278.35 767.00 L2277.41 755.00 L2276.12 743.00 L2275.75 738.00 L2275.33 724.00 L2275.64 718.00 Z" fill="#FF3030" stroke="#333333" stroke-width="4.40" stroke-linejoin="round"/>
<path d="M2428.96 786.50 L2427.83 809.50 L2427.25 831.50 L2427.14 855.50 L2427.50 880.50 L2428.05 899.50 L2428.85 920.50 L2431.82 983.50 L2432.80 1006.50 L2433.42 1025.50 L2434.10 1054.50 L2434.50 1061.50 L2435.44 1072.50 L2435.67 1077.50 L2435.60 1081.50 L2435.22 1085.50 L2433.00 1097.50 L2432.46 1101.50 L2432.31 1105.50 L2432.58 1108.50 L2432.97 1110.50 L2433.57 1112.50 L2434.39 1114.50 L2435.46 1116.50 L2437.55 1119.50 L2439.27 1121.50 L2441.23 1123.50 L2445.79 1127.50 L2451.04 1131.50 L2458.31 1136.50 L2473.59 1146.50 L2477.74 1149.50 L2480.21 1151.50 L2483.34 1154.50 L2484.95 1156.50 L2485.60 1157.50 L2487.07 1160.50 L2487.23 1162.00 L2365.97 1162.00 L2366.13 1160.50 L2367.60 1157.50 L2368.25 1156.50 L2369.86 1154.50 L2372.99 1151.50 L2375.46 1149.50 L2379.61 1146.50 L2394.89 1136.50 L2402.16 1131.50 L2407.41 1127.50 L2411.97 1123.50 L2413.93 1121.50 L2415.65 1119.50 L2417.74 1116.50 L2418.81 1114.50 L2419.63 1112.50 L2420.23 1110.50 L2420.62 1108.50 L2420.89 1105.50 L2420.74 1101.50 L2420.20 1097.50 L2417.98 1085.50 L2417.60 1081.50 L2417.53 1077.50 L2417.76 1072.50 L2418.70 1061.50 L2419.10 1054.50 L2419.78 1025.50 L2420.40 1006.50 L2421.38 983.50 L2424.35 920.50 L2425.15 899.50 L2425.70 880.50 L2426.06 855.50 L2425.95 831.50 L2425.37 809.50 L2424.24 786.50 Z" fill="#446FEC" stroke="#333333" stroke-width="4.40" stroke-linejoin="round"/>
<path d="M2547.45 869.50 L2547.55 899.50 L2547.55 1157.50 L2547.75 1159.50 L2548.15 1160.50 L2578.63 1161.50 L2607.80 1162.00 L2487.00 1162.00 L2516.17 1161.50 L2546.65 1160.50 L2547.05 1159.50 L2547.25 1157.50 L2547.25 899.50 L2547.35 869.50 Z" fill="#FF3030" stroke="#333333" stroke-width="4.40" stroke-linejoin="round"/>
<line x1="179.35" y1="140.6" x2="179.35" y2="1212.85" stroke="#000" stroke-width="4.70" stroke-linecap="butt"/>
<line x1="177" y1="1210.5" x2="2650.6" y2="1210.5" stroke="#000" stroke-width="4.70" stroke-linecap="butt"/>
<line x1="164.7" y1="1162.00" x2="179" y2="1162.00" stroke="#000" stroke-width="4.70"/>
<text x="151.8" y="1180.00" text-anchor="end" class="tk">0</text>
<line x1="164.7" y1="898.25" x2="179" y2="898.25" stroke="#000" stroke-width="4.70"/>
<text x="151.8" y="916.25" text-anchor="end" class="tk">1</text>
<line x1="164.7" y1="634.50" x2="179" y2="634.50" stroke="#000" stroke-width="4.70"/>
<text x="151.8" y="652.50" text-anchor="end" class="tk">2</text>
<line x1="164.7" y1="370.75" x2="179" y2="370.75" stroke="#000" stroke-width="4.70"/>
<text x="151.8" y="388.75" text-anchor="end" class="tk">3</text>
<line x1="340.30" y1="1211" x2="340.30" y2="1225.3" stroke="#000" stroke-width="4.70"/>
<text x="366.2" y="1263.0" text-anchor="end" class="tk" transform="rotate(-45 366.2 1263.0)">Lef1+ Papillary</text>
<line x1="608.64" y1="1211" x2="608.64" y2="1225.3" stroke="#000" stroke-width="4.70"/>
<text x="634.5" y="1263.0" text-anchor="end" class="tk" transform="rotate(-45 634.5 1263.0)">Dpp4+ Papillary</text>
<line x1="876.98" y1="1211" x2="876.98" y2="1225.3" stroke="#000" stroke-width="4.70"/>
<text x="902.9" y="1263.0" text-anchor="end" class="tk" transform="rotate(-45 902.9 1263.0)">Tagln+ Papillary</text>
<line x1="1145.32" y1="1211" x2="1145.32" y2="1225.3" stroke="#000" stroke-width="4.70"/>
<text x="1171.2" y="1263.0" text-anchor="end" class="tk" transform="rotate(-45 1171.2 1263.0)">Inhba+ Dermal Papilla</text>
<line x1="1413.66" y1="1211" x2="1413.66" y2="1225.3" stroke="#000" stroke-width="4.70"/>
<text x="1439.6" y="1263.0" text-anchor="end" class="tk" transform="rotate(-45 1439.6 1263.0)">Acan+ Dermal Sheath</text>
<line x1="1682.00" y1="1211" x2="1682.00" y2="1225.3" stroke="#000" stroke-width="4.70"/>
<text x="1707.9" y="1263.0" text-anchor="end" class="tk" transform="rotate(-45 1707.9 1263.0)">Mki67+ Fibroblasts</text>
<line x1="1950.34" y1="1211" x2="1950.34" y2="1225.3" stroke="#000" stroke-width="4.70"/>
<text x="1976.2" y="1263.0" text-anchor="end" class="tk" transform="rotate(-45 1976.2 1263.0)">Dlk1+ Reticular</text>
<line x1="2218.68" y1="1211" x2="2218.68" y2="1225.3" stroke="#000" stroke-width="4.70"/>
<text x="2244.6" y="1263.0" text-anchor="end" class="tk" transform="rotate(-45 2244.6 1263.0)">Fabp4+ Pre-Adipocytes</text>
<line x1="2487.02" y1="1211" x2="2487.02" y2="1225.3" stroke="#000" stroke-width="4.70"/>
<text x="2512.9" y="1263.0" text-anchor="end" class="tk" transform="rotate(-45 2512.9 1263.0)">Plac8+ Fascia</text>
<text x="1413.2" y="99.9" text-anchor="middle" class="tt">Sparcl1</text>
<text x="93.7" y="676.4" text-anchor="middle" class="yt" transform="rotate(-90 93.7 676.4)">Expression Level</text>
</svg>
</body></html>
